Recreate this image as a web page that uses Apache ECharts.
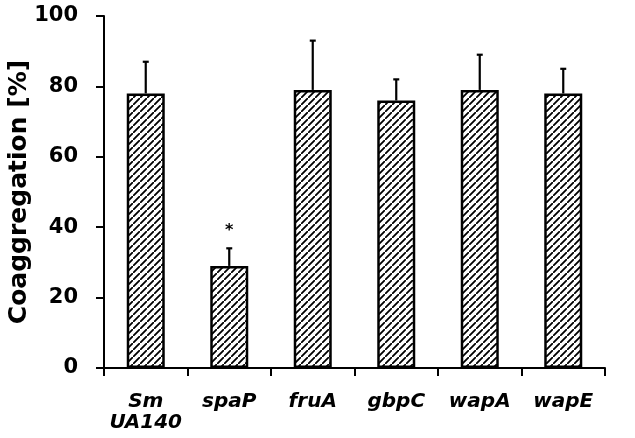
<!DOCTYPE html>
<html>
<head>
<meta charset="utf-8">
<script src="https://cdn.jsdelivr.net/npm/echarts@6/dist/echarts.min.js"></script>
<style>
  html, body { margin: 0; padding: 0; background: #fff; }
  #chart { width: 635px; height: 438px; }
</style>
</head>
<body>
<div id="chart"></div>
<script>
// strains / mutants on the x axis
const categories = ['Sm\nUA140', 'spaP', 'fruA', 'gbpC', 'wapA', 'wapE'];
// mean coaggregation (%)
const values = [78, 29, 79, 76, 79, 78];
// upper error (SD) added on top of the mean
const errors = [9, 5, 14, 6, 10, 7];
// significance marks
const marks = ['', '*', '', '', '', ''];
const yTicks = [0, 20, 40, 60, 80, 100];

// diagonal hatch pattern "/"
function hatch() {
    const s = 7;
    const c = document.createElement('canvas');
    c.width = s; c.height = s;
    const g = c.getContext('2d');
    g.fillStyle = '#fff';
    g.fillRect(0, 0, s, s);
    g.strokeStyle = '#000';
    g.lineWidth = 1.8;
    g.beginPath();
    g.moveTo(-1, s + 1); g.lineTo(s + 1, -1);
    g.moveTo(-s - 1, 1); g.lineTo(1, -s - 1);
    g.moveTo(s - 1, 2 * s + 1); g.lineTo(2 * s + 1, s - 1);
    g.stroke();
    return c;
}

const chart = echarts.init(document.getElementById('chart'), null, { renderer: 'canvas' });

const font = 'DejaVu Sans';

chart.setOption({
    animation: false,
    grid: { left: 104, right: 30, top: 16, bottom: 70, containLabel: false, outerBoundsMode: 'none' },
    xAxis: {
        type: 'category',
        data: categories,
        axisLine: { lineStyle: { color: '#000', width: 2 } },
        axisTick: { show: true, length: 8, lineStyle: { color: '#000', width: 2 } },
        axisLabel: {
            interval: 0,
            color: '#000', fontFamily: font, fontWeight: 'bold', fontStyle: 'italic',
            fontSize: 20, lineHeight: 21, margin: 23
        }
    },
    yAxis: {
        type: 'value',
        min: 0, max: 100, interval: 20,
        name: 'Coaggregation [%]',
        nameLocation: 'middle',
        nameGap: 72,
        nameMoveOverlap: false,
        nameTextStyle: { color: '#000', fontFamily: font, fontWeight: 'bold', fontSize: 25 },
        axisLine: { show: true, lineStyle: { color: '#000', width: 2 } },
        axisTick: { show: true, length: 8, lineStyle: { color: '#000', width: 2 } },
        splitLine: { show: false },
        axisLabel: {
            color: '#000', fontFamily: font, fontWeight: 'bold', fontSize: 21, margin: 26,
            formatter: v => yTicks.includes(v) ? String(v) : ''
        }
    },
    series: [
        {
            type: 'bar',
            data: values,
            barWidth: 38,
            itemStyle: {
                color: { image: hatch(), repeat: 'repeat' },
                borderColor: '#000',
                borderWidth: 2.5
            },
            z: 2
        },
        {
            type: 'custom',
            data: values.map((v, i) => [i, v, errors[i], marks[i]]),
            z: 3,
            renderItem: (params, api) => {
                const x = api.value(0);
                const base = api.coord([x, api.value(1)]);
                const top = api.coord([x, api.value(1) + api.value(2)]);
                const children = [
                    { type: 'line', shape: { x1: base[0], y1: base[1], x2: top[0], y2: top[1] },
                      style: { stroke: '#000', lineWidth: 2.2 } },
                    { type: 'line', shape: { x1: top[0] - 3, y1: top[1], x2: top[0] + 3, y2: top[1] },
                      style: { stroke: '#000', lineWidth: 2.2 } }
                ];
                const m = marks[params.dataIndex];
                if (m) {
                    children.push({
                        type: 'text',
                        style: {
                            text: m, x: top[0], y: top[1] - 17,
                            fill: '#000', font: 'bold 16px "DejaVu Sans"',
                            align: 'center', verticalAlign: 'middle'
                        }
                    });
                }
                return { type: 'group', children };
            }
        }
    ]
});
</script>
</body>
</html>
